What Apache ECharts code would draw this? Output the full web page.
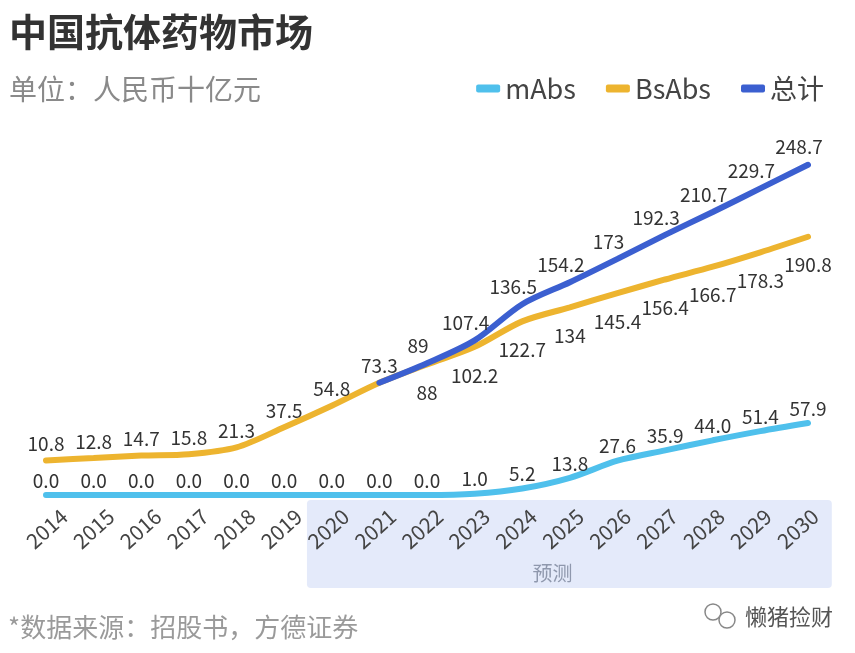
<!DOCTYPE html>
<html><head><meta charset="utf-8">
<script src="https://cdn.jsdelivr.net/npm/echarts@6/dist/echarts.min.js"></script>
<style>html,body{margin:0;padding:0;background:#fff}#c{width:855px;height:653px}</style>
</head><body><div id="c"></div>
<script>
const years = ['2014','2015','2016','2017','2018','2019','2020','2021','2022','2023','2024','2025','2026','2027','2028','2029','2030'];
const mAbs = [0,0,0,0,0,0,0,0,0,1.0,5.2,13.8,27.6,35.9,44.0,51.4,57.9];
const bsAbs = [10.8,12.8,14.7,15.8,21.3,37.5,54.8,73.3,88,102.2,122.7,134,145.4,156.4,166.7,178.3,190.8];
const total = [null,null,null,null,null,null,null,73.3,89,107.4,136.5,154.2,173,192.3,210.7,229.7,248.7];
const forecastStart = '2020', forecastEnd = '2030';

const FONT = '"Noto Sans CJK SC","Noto Sans",sans-serif';
const chart = echarts.init(document.getElementById('c'), null, {renderer:'canvas'});
const lblBase = {show:true, color:'#333', fontSize:19, fontFamily:FONT};

const option = {
  backgroundColor:'#fff',
  animation:false,
  title:[
    {text:'中国抗体药物市场', left:4, top:8, textStyle:{fontSize:38, fontWeight:'bold', color:'#333', fontFamily:FONT}},
    {text:'单位：人民币十亿元', left:4, top:70, textStyle:{fontSize:28, fontWeight:'normal', color:'#8a8a8a', fontFamily:FONT}},
    {text:'*数据来源：招股书，方德证券', left:3, top:609, textStyle:{fontSize:26, fontWeight:'normal', color:'#9a9a9a', fontFamily:FONT}}
  ],
  legend:{
    right:26, top:70, icon:'roundRect', itemWidth:24, itemHeight:8, itemGap:30,
    textStyle:{fontSize:27, color:'#444', fontFamily:FONT},
    data:['mAbs','BsAbs','总计']
  },
  grid:[
    {left:46, right:47, top:147, bottom:158},
    {left:64, right:40, top:147, bottom:158}
  ],
  xAxis:[
    {type:'category', data:years, boundaryGap:false, gridIndex:0,
     axisLine:{show:false}, axisTick:{show:false}, axisLabel:{show:false}},
    {type:'category', data:years, boundaryGap:false, gridIndex:1,
     axisLine:{show:false}, axisTick:{show:false},
     axisLabel:{rotate:42, margin:18, fontSize:21, color:'#444', fontFamily:FONT, interval:0}}
  ],
  yAxis:[
    {type:'value', min:0, max:280, show:false, splitLine:{show:false}, gridIndex:0},
    {type:'value', min:-17, max:263, show:false, splitLine:{show:false}, gridIndex:0},
    {type:'value', min:0, max:280, show:false, splitLine:{show:false}, gridIndex:1}
  ],
  series:[
    {name:'mAbs', type:'line', smooth:0.3, symbol:'circle', symbolSize:2, data:mAbs, z:2, yAxisIndex:0,
     lineStyle:{width:6, color:'#4FC0EC', cap:'round'}, itemStyle:{color:'#4FC0EC'},
     label:Object.assign({position:'top', distance:4, formatter:p=>p.value.toFixed(1)}, lblBase)},
    {name:'BsAbs', type:'line', smooth:0.3, symbol:'circle', symbolSize:2, z:3, yAxisIndex:1,
     data:bsAbs.map((v,i)=>({value:v, label:{position: i<=7?'top':'bottom', distance: i<=7?6:18}})),
     lineStyle:{width:6, color:'#EDB42F', cap:'round'}, itemStyle:{color:'#EDB42F'},
     label:Object.assign({formatter:p=>String(p.value)}, lblBase)},
    {name:'总计', type:'line', smooth:0.3, symbol:'circle', symbolSize:2, z:4, yAxisIndex:1,
     data:total.map((v,i)=>({value:v, label:{show: i>7}})),
     lineStyle:{width:6, color:'#3B5FD0', cap:'round'}, itemStyle:{color:'#3B5FD0'},
     label:Object.assign({position:'top', distance:7, offset:[-9,0], formatter:p=>String(p.value)}, lblBase)}
  ]
};
chart.setOption(option);

const x0 = chart.convertToPixel({xAxisIndex:0}, forecastStart);
const x1 = chart.convertToPixel({xAxisIndex:0}, forecastEnd);
const step = chart.convertToPixel({xAxisIndex:0}, years[1]) - chart.convertToPixel({xAxisIndex:0}, years[0]);
const yb = chart.convertToPixel({yAxisIndex:0}, 0);
const rl = x0 - step*0.5 - 1, rr = x1 + step*0.5;
chart.setOption({graphic:[
  {type:'rect', z:-10, silent:true, shape:{x:rl, y:yb+5, width:rr-rl, height:88, r:4}, style:{fill:'#E4EAFA'}},
  {type:'text', z:-5, silent:true, style:{text:'预测', x:(rl+rr)/2-17, y:yb+78, align:'center', verticalAlign:'middle', fontSize:20, fill:'#8F98AD', fontFamily:FONT}},
  {type:'circle', shape:{cx:713, cy:612, r:8}, style:{fill:'none', stroke:'#888', lineWidth:1.5}},
  {type:'circle', shape:{cx:727, cy:620, r:8}, style:{fill:'#fff', stroke:'#888', lineWidth:1.5}},
  {type:'text', style:{text:'懒猪捡财', x:745, y:617, verticalAlign:'middle', fontSize:22, fill:'#555', fontFamily:FONT}}
]});
</script></body></html>
